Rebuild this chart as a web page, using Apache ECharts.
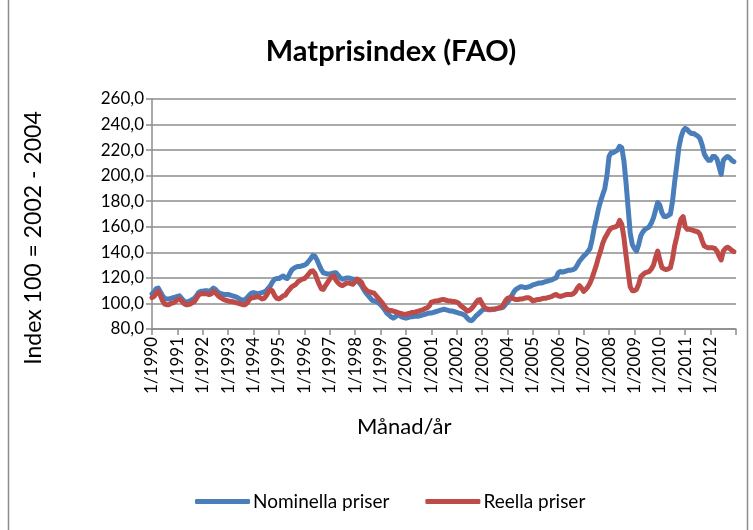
<!DOCTYPE html>
<html>
<head>
<meta charset="utf-8">
<script src="https://cdn.jsdelivr.net/npm/echarts@6/dist/echarts.min.js"></script>
<style>
  html, body { margin: 0; padding: 0; background: #fff; }
  #chart { width: 753px; height: 530px; }
</style>
</head>
<body>
<div id="chart"></div>
<script>
// FAO food price index, 2002-2004 = 100, monthly 1/1990 - 12/2012
var years = [];
for (var y = 1990; y <= 2012; y++) years.push(y);

var nominal = [
  107.5, 109, 111.5, 112, 109, 106, 104, 103.5, 103.5, 104, 104.5, 105,          // 1990
  105.5, 106, 104, 102, 101, 101.5, 102, 103, 104, 106, 108.5, 109.5,             // 1991
  109.5, 110, 110, 109.5, 110.5, 112, 111, 109, 108, 107.5, 107, 107,             // 1992
  107, 106.5, 106, 105.5, 105, 104, 103, 102.5, 103, 104.5, 106.5, 108,           // 1993
  108.5, 108, 107.5, 108, 108.5, 109, 110, 112, 114, 117, 119, 119.5,             // 1994
  119.5, 120.5, 121.5, 120, 119.5, 123, 126, 127.5, 128.5, 129, 129, 129.5,       // 1995
  130, 131, 133, 135, 137.5, 137, 134, 130, 126.5, 124, 123.5, 123,               // 1996
  123, 123.5, 124, 124, 122, 120, 119, 119.5, 120, 120, 119.5, 119,               // 1997
  119, 118, 116, 114, 111, 108.5, 106.5, 104.5, 102.5, 102, 101.5, 100.5,         // 1998
  99, 97, 95, 92.5, 91, 89.5, 88.5, 89.5, 91, 90.5, 89.5, 89,                     // 1999
  88.5, 89, 89.5, 89.5, 90, 90, 90, 90.5, 91, 91.5, 92, 92.5,                     // 2000
  92.5, 93, 93.5, 94, 94.5, 95, 95.5, 95, 94.5, 94, 94, 93.5,                     // 2001
  93, 92.5, 92, 91.5, 90.5, 88.5, 87, 86.5, 88, 90, 91.5, 93,                     // 2002
  94.5, 95.5, 95.5, 95, 95, 95.5, 95.5, 96, 96.5, 96.5, 97, 99,                   // 2003
  101, 103, 106, 109, 111, 112, 113, 113, 112.5, 112.5, 113, 113.5,               // 2004
  114.5, 115, 115.5, 116, 116, 116.5, 117, 117.5, 118, 118.5, 119.5, 120,         // 2005
  124, 125, 124.5, 125, 125.5, 126, 126, 126.5, 127.5, 130, 133, 135,             // 2006
  137, 138.5, 140.5, 143, 150, 159, 166, 174, 180, 185, 190, 200,                 // 2007
  215, 218, 218, 219, 220, 223, 222, 212, 195, 175, 155, 146,                     // 2008
  143, 141, 146, 153, 156, 158, 159, 160, 163, 167, 173, 179,                     // 2009
  177, 171, 168, 168, 169, 170, 180, 195, 208, 222, 230, 235,                     // 2010
  237, 236, 234, 233, 233, 232, 231, 229, 224, 217, 214, 212,                     // 2011
  212, 215, 215, 213, 207, 201, 212, 214, 215, 214, 212, 211                      // 2012
];

var real = [
  104.5, 105.5, 108, 109.5, 106, 102, 99.5, 99, 99, 100, 100.5, 101.5,            // 1990
  103, 103.5, 102, 100, 99, 99, 99.5, 100.5, 101.5, 104, 106.5, 107.5,            // 1991
  107.5, 107.5, 107.5, 107, 107.5, 109.5, 108.5, 106.5, 105, 104, 103, 102.5,     // 1992
  102, 101.5, 101.5, 101, 100.5, 100, 99.5, 99, 99, 100.5, 103, 104.5,            // 1993
  104.5, 105, 105.5, 104.5, 103.5, 104, 106, 109, 111, 109.5, 106, 104,           // 1994
  103.5, 104.5, 106, 106.5, 109, 111, 113, 114, 115, 117, 118, 119,               // 1995
  119.5, 121, 123, 125, 125.5, 123.5, 119, 115, 111.5, 111, 114, 116.5,           // 1996
  119, 121, 121.5, 118, 116, 114.5, 114, 115, 116, 116, 115.5, 115,               // 1997
  117, 119, 118, 116.5, 113, 111, 109.5, 109, 108.5, 108, 106, 104,               // 1998
  102, 100, 97.5, 95.5, 94.5, 94.5, 94, 93.5, 93, 92.5, 92, 91.5,                 // 1999
  91.5, 92, 92.5, 93, 93, 93.5, 94, 94.5, 95, 96, 96.5, 98,                       // 2000
  101, 101.5, 102, 102, 102.5, 103, 103, 102.5, 102, 102, 101.5, 101.5,           // 2001
  101, 100, 98, 97, 95.5, 94, 94.5, 96, 98, 100.5, 102.5, 103,                    // 2002
  100, 97, 96, 95.5, 95.5, 95.5, 95.5, 96, 96.5, 97, 99, 102,                     // 2003
  104, 104.5, 104.5, 103.5, 103, 103, 103.5, 103.5, 104, 104.5, 104.5, 103.5,     // 2004
  102, 102.5, 103, 103, 103.5, 104, 104, 104.5, 105, 105.5, 106.5, 107,           // 2005
  106, 105.5, 106, 106.5, 107, 107, 107, 107.5, 109, 112, 114, 112,               // 2006
  109.5, 111, 113, 116, 120, 125, 130, 136, 141, 147, 151, 154,                   // 2007
  157, 159, 159.5, 160, 161, 165, 162, 152, 138, 125, 113, 110,                   // 2008
  110, 111, 115, 121, 122.5, 124, 124.5, 125, 127, 130, 136, 141,                 // 2009
  134, 128, 127, 126.5, 127, 128, 135, 145, 152, 160, 166, 168,                   // 2010
  160, 158, 158, 157.5, 157, 156.5, 156, 154, 149, 145, 144, 143.5,               // 2011
  143.5, 143.5, 143, 141, 137, 134, 141, 143, 144, 143, 141.5, 140.5              // 2012
];

var months = [];
years.forEach(function (yr) {
  for (var m = 1; m <= 12; m++) months.push(m + '/' + yr);
});
months.push('1/2013'); // end tick only

var yTicks = [80, 100, 120, 140, 160, 180, 200, 220, 240, 260];

var font = 'Lato, "Liberation Sans", sans-serif';
var chart = echarts.init(document.getElementById('chart'));
chart.setOption({
  animation: false,
  textStyle: { fontFamily: font },
  title: {
    text: 'Matprisindex (FAO)',
    left: 386, top: 32, textAlign: 'center',
    textStyle: { fontFamily: font, fontSize: 29, fontWeight: 'bold', color: '#000' }
  },
  grid: { left: 152, right: 17, top: 99, bottom: 201 },
  legend: {
    bottom: 14, left: 190,
    icon: 'roundRect', itemWidth: 55, itemHeight: 5, itemGap: 36,
    textStyle: { fontFamily: font, fontSize: 19, color: '#000', padding: [0, 0, 0, -2] },
    data: ['Nominella priser', 'Reella priser']
  },
  graphic: [
    { type: 'rect', shape: { x: 8.5, y: -5, width: 739, height: 545 },
      style: { fill: 'none', stroke: '#8c8c8c', lineWidth: 1.5 }, silent: true },
    { type: 'text', left: 357, top: 416,
      style: { text: 'Månad/år', font: '22px ' + font, fill: '#000' } },
    { type: 'text', x: 34, y: 238, rotation: Math.PI / 2,
      style: { text: 'Index 100 = 2002 - 2004', font: '23px ' + font, fill: '#000',
               align: 'center', verticalAlign: 'middle' } }
  ],
  xAxis: {
    type: 'category',
    data: months,
    boundaryGap: false,
    axisLine: { lineStyle: { color: '#8c8c8c', width: 1.5 } },
    axisTick: { length: 6, interval: function (i) { return i % 12 === 0; },
                lineStyle: { color: '#8c8c8c', width: 1.5 } },
    axisLabel: {
      rotate: 90, fontSize: 17, color: '#000', margin: 8,
      interval: function (i) { return i % 12 === 0 && i < years.length * 12; }
    },
    splitLine: { show: false }
  },
  yAxis: {
    type: 'value',
    min: yTicks[0], max: yTicks[yTicks.length - 1], interval: 20,
    axisLine: { show: true, lineStyle: { color: '#8c8c8c', width: 1.5 } },
    axisTick: { show: true, length: 6, lineStyle: { color: '#8c8c8c', width: 1.5 } },
    axisLabel: {
      fontSize: 17, color: '#000', margin: 8,
      formatter: function (v) { return v.toFixed(1).replace('.', ','); }
    },
    splitLine: { lineStyle: { color: '#8c8c8c', width: 1.5 } }
  },
  series: [
    {
      name: 'Nominella priser', type: 'line', data: nominal,
      showSymbol: false, symbol: 'none',
      lineStyle: { width: 5, color: '#4a7ebb', join: 'round', cap: 'round' },
      itemStyle: { color: '#4a7ebb' }
    },
    {
      name: 'Reella priser', type: 'line', data: real,
      showSymbol: false, symbol: 'none',
      lineStyle: { width: 5, color: '#be4b48', join: 'round', cap: 'round' },
      itemStyle: { color: '#be4b48' }
    }
  ]
});
</script>
</body>
</html>
